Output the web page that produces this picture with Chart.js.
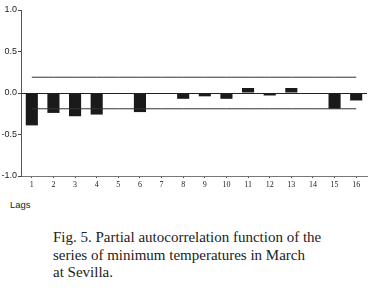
<!DOCTYPE html>
<html>
<head>
<meta charset="utf-8">
<script src="https://cdn.jsdelivr.net/npm/chart.js@4"></script>
<style>
  body { margin: 0; background: #fff; width: 380px; height: 300px; position: relative; overflow: hidden; }
  #box { position: absolute; left: 0; top: 0; width: 380px; height: 190px; }
  #lags { position: absolute; left: 10px; top: 199px; font: 9.5px "Liberation Sans", Arial, sans-serif; color: #222; }
  #caption { position: absolute; left: 53px; top: 229px; font: 15px "Liberation Serif", "Times New Roman", serif; line-height: 17.5px; color: #222; }
</style>
</head>
<body>
<div id="box"><canvas id="pacf"></canvas></div>
<div id="lags">Lags</div>
<div id="caption">Fig. 5. Partial autocorrelation function of the<br>series of minimum temperatures in March<br>at Sevilla.</div>
<script>
// lags 1..16
var lags = ['1','2','3','4','5','6','7','8','9','10','11','12','13','14','15','16'];
// partial autocorrelation values
var pacf = [-0.39, -0.24, -0.28, -0.26, -0.01, -0.23, 0, -0.07, -0.04, -0.07, 0.06, -0.03, 0.06, 0, -0.19, -0.09];
// confidence limits
var upperLimit = 0.19;
var lowerLimit = -0.19;

var upper = lags.map(function(){ return upperLimit; });
var lower = lags.map(function(){ return lowerLimit; });

var ctx = document.getElementById('pacf');
var chart = new Chart(ctx, {
  type: 'bar',
  data: {
    labels: lags,
    datasets: [
      {
        type: 'line',
        data: upper,
        borderColor: '#333',
        borderWidth: 1,
        pointRadius: 0,
        fill: false
      },
      {
        type: 'line',
        data: lower,
        borderColor: '#333',
        borderWidth: 1,
        pointRadius: 0,
        fill: false
      },
      {
        data: pacf,
        backgroundColor: '#1a1a1a',
        barPercentage: 0.56,
        categoryPercentage: 1
      }
    ]
  },
  options: {
    responsive: true,
    maintainAspectRatio: false,
    animation: false,
    layout: { padding: { top: 10, right: 13, left: 0, bottom: 0 } },
    plugins: { legend: { display: false }, tooltip: { enabled: false } },
    scales: {
      x: {
        offset: true,
        grid: { offset: false, drawOnChartArea: false, color: 'transparent', tickColor: '#444', tickLength: 2 },
        border: { display: true, color: '#777', width: 1 },
        ticks: { color: '#222', font: { family: 'Liberation Serif', size: 8 }, padding: 2, maxRotation: 0, autoSkip: false },
        afterFit: function(s){ s.height = 14; }
      },
      y: {
        min: -1, max: 1,
        grid: {
          color: function(c){ return c.tick && c.tick.value === 0 ? '#222' : 'transparent'; },
          tickColor: '#444',
          tickLength: 3
        },
        border: { display: true, color: '#555', width: 1 },
        ticks: {
          stepSize: 0.5,
          color: '#222',
          padding: 1,
          font: { family: 'Liberation Sans', size: 9 },
          callback: function(v){ return v.toFixed(1); }
        },
        afterFit: function(s){ s.width = 21; }
      }
    }
  }
});
</script>
</body>
</html>
